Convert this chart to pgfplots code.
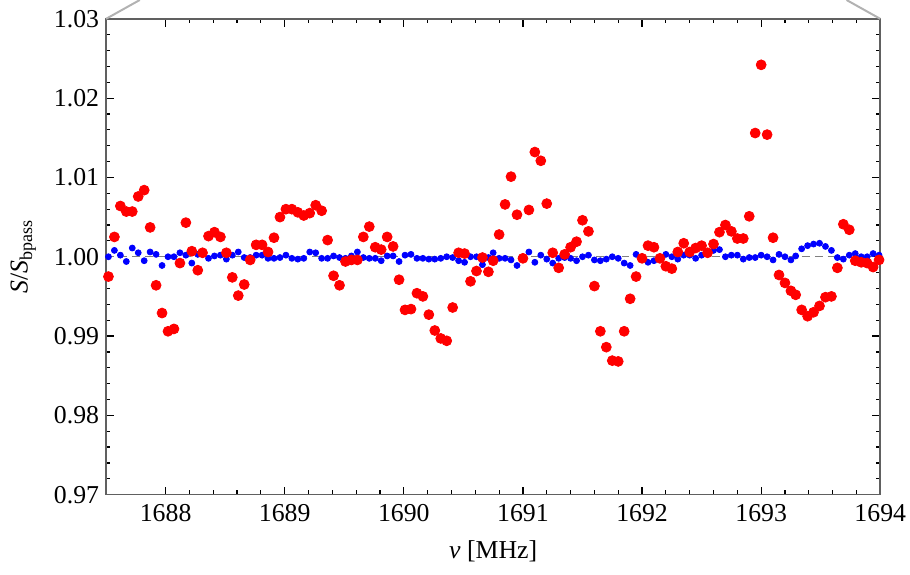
\documentclass[border=0pt]{standalone}
\usepackage{fontspec}
\setmainfont{Liberation Serif}
\usepackage{pgfplots}
\usepackage{pgfplotstable}
\pgfplotsset{compat=1.18}
\pgfplotstableread{
x r b
1687.52 0.9975 1.0000
1687.57 1.0025 1.0008
1687.62 1.0064 1.0002
1687.67 1.0057 0.9994
1687.72 1.0057 1.0011
1687.77 1.0076 1.0005
1687.82 1.0084 0.9995
1687.87 1.0037 1.0006
1687.92 0.9964 1.0003
1687.97 0.9929 0.9989
1688.02 0.9906 1.0000
1688.07 0.9909 1.0000
1688.12 0.9992 1.0005
1688.17 1.0043 1.0002
1688.22 1.0007 0.9992
1688.27 0.9983 1.0003
1688.31 1.0005 1.0003
1688.36 1.0026 0.9998
1688.41 1.0031 1.0001
1688.46 1.0025 1.0002
1688.51 1.0005 0.9997
1688.56 0.9974 1.0002
1688.61 0.9951 1.0006
1688.66 0.9965 0.9999
1688.71 0.9996 0.9999
1688.76 1.0015 1.0002
1688.81 1.0015 1.0002
1688.86 1.0006 0.9998
1688.91 1.0024 0.9998
1688.96 1.0050 0.9999
1689.01 1.0060 1.0002
1689.06 1.0060 0.9998
1689.11 1.0056 0.9997
1689.16 1.0052 0.9998
1689.21 1.0055 1.0006
1689.26 1.0065 1.0005
1689.31 1.0058 0.9998
1689.36 1.0021 0.9998
1689.41 0.9976 1.0001
1689.46 0.9964 0.9999
1689.51 0.9994 0.9998
1689.56 0.9996 1.0001
1689.61 0.9996 1.0006
1689.66 1.0025 0.9999
1689.71 1.0038 0.9998
1689.76 1.0012 0.9998
1689.81 1.0009 0.9995
1689.86 1.0025 1.0001
1689.91 1.0013 1.0001
1689.96 0.9971 0.9994
1690.01 0.9933 1.0002
1690.06 0.9934 1.0003
1690.11 0.9954 0.9998
1690.16 0.9950 0.9998
1690.21 0.9927 0.9997
1690.26 0.9907 0.9997
1690.31 0.9897 0.9998
1690.36 0.9894 1.0000
1690.41 0.9936 0.9999
1690.46 1.0005 0.9995
1690.51 1.0004 0.9993
1690.56 0.9969 1.0000
1690.61 0.9982 1.0000
1690.66 0.9999 0.9990
1690.71 0.9981 0.9999
1690.75 0.9995 1.0005
1690.80 1.0028 0.9998
1690.85 1.0066 0.9998
1690.90 1.0101 0.9996
1690.95 1.0053 0.9989
1691.00 0.9998 1.0000
1691.05 1.0059 1.0006
1691.10 1.0132 0.9993
1691.15 1.0121 1.0002
1691.20 1.0067 0.9997
1691.25 1.0005 0.9992
1691.30 0.9986 0.9998
1691.35 1.0003 0.9999
1691.40 1.0012 0.9998
1691.45 1.0019 0.9995
1691.50 1.0046 1.0000
1691.55 1.0032 1.0002
1691.60 0.9963 0.9996
1691.65 0.9906 0.9995
1691.70 0.9886 0.9997
1691.75 0.9869 1.0000
1691.80 0.9868 0.9998
1691.85 0.9906 0.9992
1691.90 0.9947 0.9989
1691.95 0.9975 1.0003
1692.00 0.9998 1.0000
1692.05 1.0014 0.9993
1692.10 1.0012 0.9995
1692.15 0.9998 0.9999
1692.20 0.9988 1.0003
1692.25 0.9985 1.0000
1692.30 1.0006 0.9997
1692.35 1.0017 1.0002
1692.40 1.0006 1.0002
1692.45 1.0011 0.9998
1692.50 1.0014 1.0002
1692.55 1.0005 1.0004
1692.60 1.0016 1.0008
1692.65 1.0031 1.0009
1692.70 1.0040 1.0000
1692.75 1.0032 1.0002
1692.80 1.0023 1.0002
1692.85 1.0023 0.9997
1692.90 1.0051 0.9999
1692.95 1.0156 0.9999
1693.00 1.0242 1.0002
1693.05 1.0154 1.0000
1693.10 1.0024 0.9996
1693.15 0.9977 1.0003
1693.20 0.9967 1.0000
1693.25 0.9957 0.9996
1693.29 0.9952 1.0001
1693.34 0.9933 1.0010
1693.39 0.9925 1.0014
1693.44 0.9930 1.0016
1693.49 0.9938 1.0017
1693.54 0.9949 1.0013
1693.59 0.9950 1.0008
1693.64 0.9986 0.9999
1693.69 1.0041 0.9997
1693.74 1.0034 1.0002
1693.79 0.9995 1.0004
1693.84 0.9993 1.0000
1693.89 0.9992 1.0000
1693.94 0.9987 1.0004
1693.99 0.9996 1.0002
}\data
\begin{document}
\begin{tikzpicture}
\begin{axis}[
  at={(0,0)}, anchor=south west,
  width=390.5pt, height=240pt, scale only axis,
  xmin=1687.5, xmax=1694, ymin=0.97, ymax=1.03,
  xtick={1688,1689,1690,1691,1692,1693,1694},
  ytick={0.97,0.98,0.99,1.00,1.01,1.02,1.03},
  minor x tick num=4, minor y tick num=4,
  tick align=inside, xtick pos=both, ytick pos=both,
  major tick length=4pt, minor tick length=2.2pt,
  axis line style={draw=gray!75!black, line width=0.8pt},
  every tick/.style={black, line width=0.6pt},
  /pgf/number format/assume math mode=true,
  x tick label style={/pgf/number format/1000 sep={}, font=\fontsize{13}{15}\selectfont, yshift=-1.5pt},
  y tick label style={/pgf/number format/.cd, fixed, fixed zerofill, precision=2, /tikz/.cd, font=\fontsize{13}{15}\selectfont},
  xlabel={\textit{ν} [MHz]},
  ylabel={\textit{S}/\textit{S}\textsubscript{bpass}},
  xlabel style={at={(axis description cs:0.5,-0.12)}, anchor=center, font=\fontsize{13}{15}\selectfont},
  ylabel style={at={(axis description cs:-0.107,0.5)}, anchor=center, font=\fontsize{13}{15}\selectfont},
]
\addplot[gray, line width=0.5pt, dash pattern=on 4pt off 2.5pt] coordinates {(1687.5,1) (1694,1)};
\addplot[only marks, mark=*, mark size=1.5pt, color=blue, mark options={draw=blue, fill=blue}] table[x=x, y=b] {\data};
\addplot[only marks, mark=*, mark size=2.5pt, color=red, mark options={draw=red, fill=red}] table[x=x, y=r] {\data};
\end{axis}
\draw[gray!60, line width=1pt] (0,240pt) -- (17pt,249.5pt);
\draw[gray!60, line width=1pt] (390.5pt,240pt) -- (373.5pt,249.5pt);
\pgfresetboundingbox
\useasboundingbox (-53.5pt,-40.5pt) rectangle (405.5pt,249.5pt);
\end{tikzpicture}
\end{document}
